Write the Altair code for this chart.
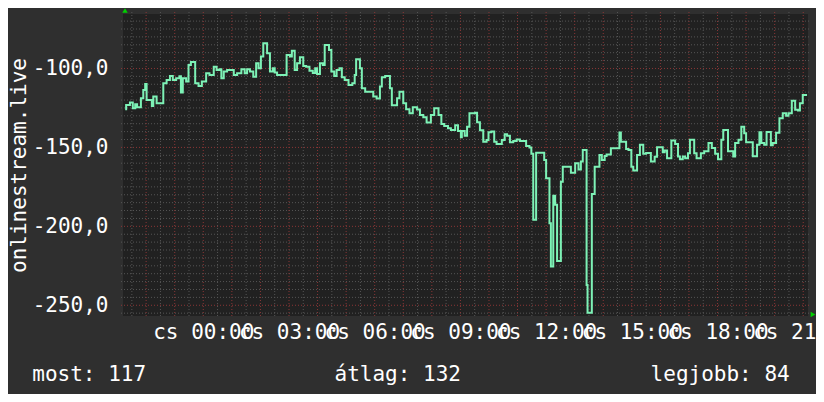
import json
import altair as alt
import pandas as pd

# ---------------- data ----------------
# minutes relative to "cs 00:00"
times_min = [-164, -162, -154, -148, -143, -139, -131, -126, -122, -119, -108, -105, -98, -84, -77, -70,
             -64, -57, -50, -47, -43, -36, -31, -26, -17, -10, -3, 6, 13, 22, 28, 34, 38, 43, 50, 64,
             71, 80, 87, 92, 98, 105, 111, 116, 121, 126, 134, 140, 146, 150, 155, 175, 182, 186, 192,
             197, 203, 210, 216, 223, 230, 235, 239, 245, 251, 255, 264, 269, 275, 280, 286, 291, 297,
             305, 313, 318, 321, 329, 333, 340, 357, 364, 371, 375, 382, 392, 396, 407, 412, 420, 426,
             433, 440, 449, 455, 462, 469, 478, 485, 494, 500, 506, 514, 520, 529, 535, 541, 543, 549,
             554, 559, 571, 575, 581, 588, 595, 599, 605, 611, 616, 627, 633, 638, 644, 651, 658, 665,
             678, 685, 689, 693, 699, 716, 720, 727, 730, 735, 739, 743, 751, 755, 772, 781, 788, 793,
             797, 805, 807, 816, 822, 832, 837, 843, 847, 856, 874, 877, 888, 893, 899, 903, 911, 917,
             924, 930, 940, 948, 953, 965, 969, 974, 983, 991, 997, 1001, 1007, 1012, 1018, 1022, 1031,
             1036, 1045, 1052, 1061, 1068, 1075, 1081, 1088, 1092, 1102, 1113, 1117, 1124, 1130, 1136,
             1140, 1154, 1163, 1168, 1172, 1178, 1183, 1192, 1196, 1203, 1210, 1217, 1224, 1229, 1236,
             1243, 1249, 1253, 1259, 1268]
values = [-125.8, -123.1, -121.6, -125.2, -122.6, -124.6, -118.9, -113.6, -109.8, -120.0, -123.7, -117.8,
          -122.0, -109.4, -107.3, -104.7, -107.3, -106.2, -105.0, -115.3, -106.2, -108.3, -97.8, -95.9,
          -109.4, -111.1, -108.3, -103.0, -104.1, -98.9, -101.0, -100.5, -106.2, -102.0, -101.0, -104.1,
          -103.0, -100.5, -103.0, -100.5, -102.0, -105.2, -96.7, -99.9, -92.5, -84.0, -90.4, -102.0,
          -99.9, -102.5, -104.1, -91.5, -92.5, -88.7, -101.0, -96.7, -92.9, -98.4, -98.9, -101.5,
          -102.8, -99.9, -103.5, -96.7, -97.8, -85.1, -88.3, -102.0, -104.7, -101.0, -99.9, -105.6,
          -107.3, -110.4, -109.4, -104.1, -94.2, -99.9, -112.5, -114.7, -117.8, -119.1, -111.5, -105.6,
          -104.7, -112.5, -123.3, -118.9, -114.7, -122.0, -125.8, -128.4, -124.6, -126.0, -129.4,
          -130.9, -134.3, -129.4, -125.2, -129.4, -135.1, -136.4, -137.9, -138.9, -136.0, -139.6,
          -143.6, -139.6, -142.6, -136.9, -128.4, -128.0, -134.0, -139.2, -146.4, -145.3, -140.4,
          -140.0, -146.4, -147.8, -145.3, -141.6, -142.6, -146.7, -146.0, -145.0, -146.0, -149.1,
          -150.0, -154.1, -195.9, -153.4, -158.0, -169.5, -198.0, -225.5, -180.7, -186.4, -222.0,
          -171.7, -162.2, -166.0, -160.0, -164.0, -158.9, -151.6, -237.1, -254.8, -179.5, -162.2,
          -154.8, -158.0, -155.5, -154.5, -150.5, -140.6, -146.4, -151.0, -151.6, -162.2, -164.7,
          -154.8, -148.4, -154.0, -153.5, -159.0, -156.0, -149.9, -153.0, -152.0, -156.9, -145.7,
          -147.8, -155.8, -157.5, -155.8, -156.9, -153.7, -145.1, -153.7, -156.9, -153.7, -152.5,
          -147.2, -150.4, -154.0, -157.5, -145.1, -138.9, -152.5, -155.8, -147.2, -145.1, -136.9,
          -141.0, -146.7, -155.6, -148.4, -140.4, -147.2, -148.4, -140.2, -148.6, -147.2, -140.8,
          -131.5, -128.4, -130.0, -128.4, -120.4, -126.2, -126.6, -122.0, -116.8, -116.8]

y_ticks = [-250, -200, -150, -100]
x_tick_minutes = [0, 180, 360, 540, 720, 900, 1080, 1260]
x_tick_labels = ["cs 00:00", "cs 03:00", "cs 06:00", "cs 09:00", "cs 12:00",
                 "cs 15:00", "cs 18:00", "cs 21:00"]
y_title = "onlinestream.live"
footer_labels = ["most: 117", "átlag: 132", "legjobb: 84"]

# ---------------- layout / style ----------------
W, H = 685, 302
XDOM = [-168.6, 1270.0]
YDOM = [-256.8, -65.5]
FONT = "DejaVu Sans Mono"
FS = 21
BG = "#2f2f2f"
PLOT_BG = "#212121"
LINE_C = "#7df2b6"
GRID_MINOR = "#555555"
GRID_MAJOR = "#8a3636"
ARROW_C = "#00d000"

df = pd.DataFrame({"t": times_min, "v": values})
xs = alt.Scale(domain=XDOM, nice=False, zero=False)
ys = alt.Scale(domain=YDOM, nice=False, zero=False)

label_arr = json.dumps(x_tick_labels)
x_axis = alt.Axis(values=x_tick_minutes, labelExpr=f"{label_arr}[round(datum.value/180)]",
                  title=None, labelOverlap=False, labelFlush=False,
                  labelBaseline="alphabetic", labelPadding=22, labelAlign="center")
y_axis = alt.Axis(values=y_ticks,
                  labelExpr="(datum.value < 0 ? '-' : '') + replace(format(abs(datum.value), '.1f'), '.', ',')",
                  title=y_title, labelPadding=15, labelAlign="right", labelBaseline="middle",
                  titleAngle=270, titleX=-98, titleY=H / 2, titleAlign="center",
                  titleBaseline="alphabetic")

minor_x = pd.DataFrame({"t": [m for m in range(-150, 1271, 30) if m % 60 != 0]})
major_x = pd.DataFrame({"t": list(range(-120, 1271, 60))})
minor_y = pd.DataFrame({"v": [v for v in range(-255, -65, 5) if v % 50 != 0]})
major_y = pd.DataFrame({"v": y_ticks})


def vrules(data, color):
    return alt.Chart(data).mark_rule(color=color, strokeWidth=1, strokeDash=[1, 2]).encode(
        x=alt.X("t:Q", scale=xs, axis=x_axis),
        y=alt.value(-2), y2=alt.value(H + 2))


def hrules(data, color):
    return alt.Chart(data).mark_rule(color=color, strokeWidth=1, strokeDash=[1, 2]).encode(
        y=alt.Y("v:Q", scale=ys, axis=y_axis),
        x=alt.value(-2), x2=alt.value(W + 2))


line = alt.Chart(df).mark_line(color=LINE_C, strokeWidth=2, interpolate="step-after").encode(
    x=alt.X("t:Q", scale=xs, axis=x_axis),
    y=alt.Y("v:Q", scale=ys, axis=y_axis),
)

footer_x = [-90.7, 211.5, 527.6]
footers = [
    alt.Chart(pd.DataFrame({"label": [lab]})).mark_text(
        font=FONT, fontSize=FS, color="#ffffff", align="left", baseline="alphabetic").encode(
        text="label:N", x=alt.value(fx), y=alt.value(367))
    for lab, fx in zip(footer_labels, footer_x)
]

arrow_up = alt.Chart(pd.DataFrame({"a": [0]})).mark_point(
    shape="triangle-up", filled=True, color=ARROW_C, size=30, opacity=1).encode(
    x=alt.value(2), y=alt.value(-3.5))
arrow_right = alt.Chart(pd.DataFrame({"a": [0]})).mark_point(
    shape="triangle-right", filled=True, color=ARROW_C, size=30, opacity=1).encode(
    x=alt.value(690), y=alt.value(300.5))

chart = alt.layer(
    vrules(minor_x, GRID_MINOR), hrules(minor_y, GRID_MINOR),
    vrules(major_x, GRID_MAJOR), hrules(major_y, GRID_MAJOR),
    line, *footers, arrow_up, arrow_right
).properties(
    width=W, height=H,
    padding={"left": 115, "top": 6, "right": 8, "bottom": 78},
    autosize=alt.AutoSizeParams(type="none"),
).configure(
    background=BG,
).configure_view(
    fill=PLOT_BG, stroke=None,
).configure_axis(
    labelFont=FONT, labelFontSize=FS, labelColor="#ffffff",
    titleFont=FONT, titleFontSize=FS, titleColor="#ffffff", titleFontWeight="normal",
    domain=False, ticks=False, tickSize=0, grid=False,
)

chart.save("out.html", embed_options={"renderer": "svg", "actions": False})
